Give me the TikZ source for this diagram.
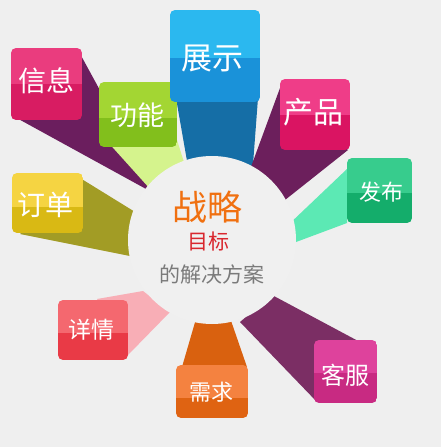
\documentclass[tikz,border=0pt]{standalone}
\usepackage{fontspec}
\setmainfont{Noto Sans CJK SC}
\definecolor{bgc}{HTML}{EFEFEF}
\definecolor{circc}{HTML}{F0F0F0}
\definecolor{xxT}{HTML}{EA3C7E}\definecolor{xxB}{HTML}{D81C62}\definecolor{xxS}{HTML}{6B1E5E}
\definecolor{gnT}{HTML}{A3D633}\definecolor{gnB}{HTML}{82BF1C}\definecolor{gnS}{HTML}{D5F38D}
\definecolor{zsT}{HTML}{2BB8EF}\definecolor{zsB}{HTML}{1A92D9}\definecolor{zsS}{HTML}{156EA6}
\definecolor{cpT}{HTML}{EF3D88}\definecolor{cpB}{HTML}{DA1462}\definecolor{cpS}{HTML}{6C1F5C}
\definecolor{fbT}{HTML}{37CC8D}\definecolor{fbB}{HTML}{14AD6B}\definecolor{fbS}{HTML}{5CE9B4}
\definecolor{ddT}{HTML}{F5D442}\definecolor{ddB}{HTML}{D9B914}\definecolor{ddS}{HTML}{A29C25}
\definecolor{xqT}{HTML}{F4686F}\definecolor{xqB}{HTML}{E93A46}\definecolor{xqS}{HTML}{F8AEB6}
\definecolor{qqT}{HTML}{F48240}\definecolor{qqB}{HTML}{DF6312}\definecolor{qqS}{HTML}{D9610F}
\definecolor{kfT}{HTML}{DE429C}\definecolor{kfB}{HTML}{C82A82}\definecolor{kfS}{HTML}{7B2E64}
\definecolor{zlc}{HTML}{F07010}\definecolor{mbc}{HTML}{D9272E}\definecolor{fac}{HTML}{7A7A7A}
\newcommand\tile[7]{%
  \begin{scope}
    \clip[rounded corners=5pt] (#1,#2) rectangle (#3,#4);
    \fill[#6] (#1,#2) rectangle (#3,#5);
    \fill[#7] (#1,#5) rectangle (#3,#4);
  \end{scope}}
\tikzset{
  lbl/.style={text=white, inner sep=0pt},
  fs/.style={font=\fontsize{#1}{#1}\selectfont}
}
\begin{document}
\begin{tikzpicture}[x=1pt,y=-1pt]
\useasboundingbox (0,0) rectangle (441,447);
\fill[bgc] (0,0) rectangle (441,447);
% tails
\fill[xxS] (78,50) -- (13,116) -- (157,195) -- cycle;
\fill[gnS] (106,140) -- (177,140) -- (188,175) -- (200,210) -- (160,200) -- cycle;
\fill[zsS] (176,98) -- (258,98) -- (252,178) -- (190,178) -- cycle;
\fill[cpS] (280,88) -- (248,175) -- (285,200) -- (348,150) -- cycle;
\fill[fbS] (347,169) -- (285,228) -- (288,245) -- (347,223) -- cycle;
\fill[ddS] (80,178) -- (140,215) -- (140,258) -- (20,234) -- cycle;
\fill[xqS] (97,299) -- (143,291) -- (170,312) -- (128,355) -- cycle;
\fill[qqS] (198,312) -- (228,312) -- (247,367) -- (182,367) -- cycle;
\fill[kfS] (240,322) -- (272,295) -- (360,342) -- (317,402) -- cycle;
% centre disc
\fill[circc] (212,240) circle[radius=84];
% tiles
\tile{11}{48}{82}{120}{84}{xxT}{xxB}
\tile{99}{82}{177}{147}{118}{gnT}{gnB}
\tile{170}{10}{260}{102}{58}{zsT}{zsB}
\tile{280}{79}{350}{150}{115}{cpT}{cpB}
\tile{347}{158}{412}{223}{193}{fbT}{fbB}
\tile{12}{173}{83}{233}{207}{ddT}{ddB}
\tile{58}{300}{128}{360}{333}{xqT}{xqB}
\tile{176}{365}{248}{418}{398}{qqT}{qqB}
\tile{314}{340}{377}{403}{373}{kfT}{kfB}
% labels
\node[lbl, fs=28] (xinxi) at (46,81) {信息};
\node[lbl, fs=27] (gongneng) at (137,115) {功能};
\node[lbl, fs=31] (zhanshi) at (212,58) {展示};
\node[lbl, fs=30] (chanpin) at (313,112) {产品};
\node[lbl, fs=22] (fabu) at (381,192) {发布};
\node[lbl, fs=28] (dingdan) at (45,205) {订单};
\node[lbl, fs=23] (xiangqing) at (91,330) {详情};
\node[lbl, fs=22] (xuqiu) at (211,392) {需求};
\node[lbl, fs=24] (kefu) at (345,375) {客服};
\node[inner sep=0pt, text=zlc, fs=35] (zhanlue) at (207,207) {战略};
\node[inner sep=0pt, text=mbc, fs=21] (mubiao) at (208,242) {目标};
\node[inner sep=0pt, text=fac, fs=21] (fangan) at (212,274) {的解决方案};
\end{tikzpicture}
\end{document}
